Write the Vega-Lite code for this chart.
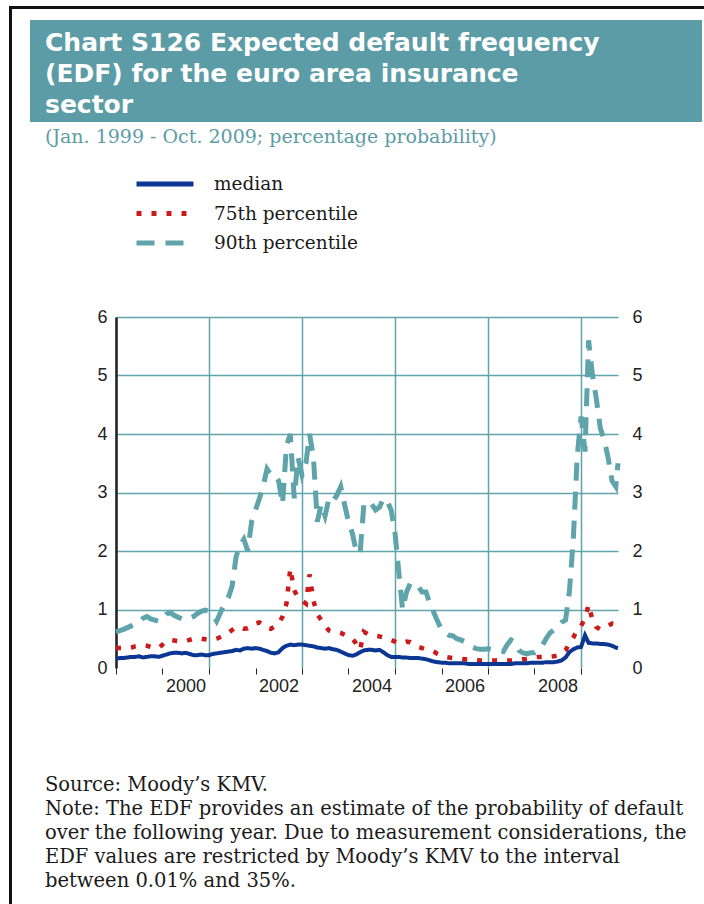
{
  "$schema": "https://vega.github.io/schema/vega-lite/v6.json",
  "background": "white",
  "padding": {"left": 9, "top": 6, "right": 0, "bottom": 0},
  "config": {
    "view": {"stroke": null},
    "font": "Liberation Sans",
    "legend": {
      "orient": "none",
      "legendX": 125,
      "legendY": 168,
      "title": null,
      "padding": 0,
      "symbolType": "stroke",
      "symbolSize": 3249,
      "symbolStrokeWidth": 5,
      "clipHeight": 20,
      "rowPadding": 9.5,
      "labelOffset": 18,
      "labelFont": "DejaVu Serif",
      "labelFontSize": 18.5,
      "labelColor": "#1a1a1a"
    }
  },
  "spacing": 0,
  "bounds": "flush",
  "vconcat": [
    {
      "width": 695,
      "height": 3,
      "view": {"fill": "#111111", "stroke": null},
      "data": {"values": []},
      "mark": "point"
    },
    {
      "spacing": 18,
      "bounds": "flush",
      "hconcat": [
        {
          "width": 3,
          "height": 900,
          "view": {"fill": "#111111", "stroke": null},
          "data": {"values": []},
          "mark": "point"
        },
        {
          "spacing": 0,
          "bounds": "flush",
          "vconcat": [
            {
              "width": 10,
              "height": 11,
              "view": {"stroke": null},
              "data": {"values": []},
              "mark": "point"
            },
            {
              "width": 672,
              "height": 102,
              "view": {"fill": "#5b9ca6", "stroke": null},
              "data": {"values": []},
              "mark": "point",
              "title": {
                "text": ["Chart S126 Expected default frequency", "(EDF) for the euro area insurance", "sector"],
                "subtitle": "(Jan. 1999 - Oct. 2009; percentage probability)",
                "orient": "bottom",
                "anchor": "start",
                "frame": "group",
                "offset": -91,
                "dx": 15,
                "font": "DejaVu Sans",
                "fontWeight": "bold",
                "fontSize": 25,
                "lineHeight": 31,
                "color": "#ffffff",
                "subtitleFont": "DejaVu Serif",
                "subtitleFontSize": 19,
                "subtitleColor": "#5b9ca6",
                "subtitlePadding": 10
              }
            },
            {
              "width": 10,
              "height": 195,
              "view": {"stroke": null},
              "data": {"values": []},
              "mark": "point"
            },
            {
              "spacing": 0,
              "bounds": "flush",
              "hconcat": [
                {
                  "width": 86,
                  "height": 10,
                  "view": {"stroke": null},
                  "data": {"values": []},
                  "mark": "point"
                },
                {
                  "width": 502,
                  "height": 351,
                  "title": {
                    "text": [
                      "Source: Moody’s KMV.",
                      "Note: The EDF provides an estimate of the probability of default",
                      "over the following year. Due to measurement considerations, the",
                      "EDF values are restricted by Moody’s KMV to the interval",
                      "between 0.01% and 35%."
                    ],
                    "orient": "bottom",
                    "anchor": "start",
                    "frame": "group",
                    "dx": -71,
                    "offset": 81,
                    "font": "DejaVu Serif",
                    "fontSize": 19.5,
                    "fontWeight": "normal",
                    "lineHeight": 24,
                    "color": "#1a1a1a"
                  },
                  "data": {
                    "values": [
                      {"date": "1999/01/01", "median": 0.16, "p75": 0.34, "p90": 0.62},
                      {"date": "1999/02/01", "median": 0.17, "p75": 0.34, "p90": 0.64},
                      {"date": "1999/03/01", "median": 0.17, "p75": 0.34, "p90": 0.66},
                      {"date": "1999/04/01", "median": 0.18, "p75": 0.34, "p90": 0.69},
                      {"date": "1999/05/01", "median": 0.19, "p75": 0.35, "p90": 0.72},
                      {"date": "1999/06/01", "median": 0.19, "p75": 0.37, "p90": 0.75},
                      {"date": "1999/07/01", "median": 0.20, "p75": 0.38, "p90": 0.78},
                      {"date": "1999/08/01", "median": 0.18, "p75": 0.39, "p90": 0.85},
                      {"date": "1999/09/01", "median": 0.19, "p75": 0.38, "p90": 0.88},
                      {"date": "1999/10/01", "median": 0.20, "p75": 0.36, "p90": 0.84},
                      {"date": "1999/11/01", "median": 0.20, "p75": 0.35, "p90": 0.82},
                      {"date": "1999/12/01", "median": 0.19, "p75": 0.34, "p90": 0.80},
                      {"date": "2000/01/01", "median": 0.21, "p75": 0.40, "p90": 0.82},
                      {"date": "2000/02/01", "median": 0.23, "p75": 0.47, "p90": 0.92},
                      {"date": "2000/03/01", "median": 0.25, "p75": 0.48, "p90": 0.95},
                      {"date": "2000/04/01", "median": 0.26, "p75": 0.47, "p90": 0.90},
                      {"date": "2000/05/01", "median": 0.26, "p75": 0.46, "p90": 0.87},
                      {"date": "2000/06/01", "median": 0.25, "p75": 0.45, "p90": 0.84},
                      {"date": "2000/07/01", "median": 0.26, "p75": 0.46, "p90": 0.82},
                      {"date": "2000/08/01", "median": 0.24, "p75": 0.48, "p90": 0.85},
                      {"date": "2000/09/01", "median": 0.22, "p75": 0.50, "p90": 0.88},
                      {"date": "2000/10/01", "median": 0.22, "p75": 0.51, "p90": 0.93},
                      {"date": "2000/11/01", "median": 0.23, "p75": 0.50, "p90": 0.97},
                      {"date": "2000/12/01", "median": 0.22, "p75": 0.49, "p90": 0.99},
                      {"date": "2001/01/01", "median": 0.22, "p75": 0.48, "p90": 0.97},
                      {"date": "2001/02/01", "median": 0.24, "p75": 0.48, "p90": 0.90},
                      {"date": "2001/03/01", "median": 0.25, "p75": 0.50, "p90": 0.80},
                      {"date": "2001/04/01", "median": 0.26, "p75": 0.53, "p90": 0.95},
                      {"date": "2001/05/01", "median": 0.27, "p75": 0.56, "p90": 1.10},
                      {"date": "2001/06/01", "median": 0.28, "p75": 0.60, "p90": 1.20},
                      {"date": "2001/07/01", "median": 0.29, "p75": 0.65, "p90": 1.40},
                      {"date": "2001/08/01", "median": 0.31, "p75": 0.70, "p90": 1.90},
                      {"date": "2001/09/01", "median": 0.30, "p75": 0.69, "p90": 2.10},
                      {"date": "2001/10/01", "median": 0.33, "p75": 0.67, "p90": 2.20},
                      {"date": "2001/11/01", "median": 0.34, "p75": 0.68, "p90": 2.00},
                      {"date": "2001/12/01", "median": 0.33, "p75": 0.72, "p90": 2.50},
                      {"date": "2002/01/01", "median": 0.34, "p75": 0.76, "p90": 2.70},
                      {"date": "2002/02/01", "median": 0.33, "p75": 0.78, "p90": 2.90},
                      {"date": "2002/03/01", "median": 0.31, "p75": 0.74, "p90": 3.10},
                      {"date": "2002/04/01", "median": 0.29, "p75": 0.68, "p90": 3.40},
                      {"date": "2002/05/01", "median": 0.26, "p75": 0.67, "p90": 3.30},
                      {"date": "2002/06/01", "median": 0.25, "p75": 0.71, "p90": 3.30},
                      {"date": "2002/07/01", "median": 0.27, "p75": 0.75, "p90": 3.20},
                      {"date": "2002/08/01", "median": 0.34, "p75": 0.88, "p90": 2.80},
                      {"date": "2002/09/01", "median": 0.38, "p75": 1.10, "p90": 3.80},
                      {"date": "2002/10/01", "median": 0.40, "p75": 1.70, "p90": 4.00},
                      {"date": "2002/11/01", "median": 0.39, "p75": 1.33, "p90": 2.90},
                      {"date": "2002/12/01", "median": 0.40, "p75": 1.20, "p90": 3.60},
                      {"date": "2003/01/01", "median": 0.40, "p75": 1.15, "p90": 3.30},
                      {"date": "2003/02/01", "median": 0.39, "p75": 1.10, "p90": 3.50},
                      {"date": "2003/03/01", "median": 0.38, "p75": 1.60, "p90": 4.00},
                      {"date": "2003/04/01", "median": 0.37, "p75": 1.15, "p90": 3.60},
                      {"date": "2003/05/01", "median": 0.35, "p75": 0.92, "p90": 2.50},
                      {"date": "2003/06/01", "median": 0.34, "p75": 0.82, "p90": 2.80},
                      {"date": "2003/07/01", "median": 0.33, "p75": 0.72, "p90": 2.60},
                      {"date": "2003/08/01", "median": 0.34, "p75": 0.64, "p90": 2.90},
                      {"date": "2003/09/01", "median": 0.32, "p75": 0.62, "p90": 2.85},
                      {"date": "2003/10/01", "median": 0.31, "p75": 0.62, "p90": 2.95},
                      {"date": "2003/11/01", "median": 0.28, "p75": 0.60, "p90": 3.10},
                      {"date": "2003/12/01", "median": 0.25, "p75": 0.57, "p90": 2.80},
                      {"date": "2004/01/01", "median": 0.22, "p75": 0.53, "p90": 2.50},
                      {"date": "2004/02/01", "median": 0.21, "p75": 0.50, "p90": 2.30},
                      {"date": "2004/03/01", "median": 0.23, "p75": 0.42, "p90": 2.00},
                      {"date": "2004/04/01", "median": 0.27, "p75": 0.31, "p90": 1.95},
                      {"date": "2004/05/01", "median": 0.30, "p75": 0.62, "p90": 2.80},
                      {"date": "2004/06/01", "median": 0.31, "p75": 0.58, "p90": 2.85},
                      {"date": "2004/07/01", "median": 0.31, "p75": 0.56, "p90": 2.80},
                      {"date": "2004/08/01", "median": 0.30, "p75": 0.55, "p90": 2.70},
                      {"date": "2004/09/01", "median": 0.31, "p75": 0.54, "p90": 2.75},
                      {"date": "2004/10/01", "median": 0.27, "p75": 0.52, "p90": 2.90},
                      {"date": "2004/11/01", "median": 0.22, "p75": 0.51, "p90": 2.85},
                      {"date": "2004/12/01", "median": 0.19, "p75": 0.48, "p90": 2.70},
                      {"date": "2005/01/01", "median": 0.19, "p75": 0.45, "p90": 2.30},
                      {"date": "2005/02/01", "median": 0.19, "p75": 0.42, "p90": 1.60},
                      {"date": "2005/03/01", "median": 0.18, "p75": 0.43, "p90": 1.00},
                      {"date": "2005/04/01", "median": 0.18, "p75": 0.45, "p90": 1.30},
                      {"date": "2005/05/01", "median": 0.17, "p75": 0.44, "p90": 1.45},
                      {"date": "2005/06/01", "median": 0.17, "p75": 0.40, "p90": 1.45},
                      {"date": "2005/07/01", "median": 0.17, "p75": 0.36, "p90": 1.40},
                      {"date": "2005/08/01", "median": 0.16, "p75": 0.34, "p90": 1.30},
                      {"date": "2005/09/01", "median": 0.15, "p75": 0.32, "p90": 1.30},
                      {"date": "2005/10/01", "median": 0.13, "p75": 0.31, "p90": 1.10},
                      {"date": "2005/11/01", "median": 0.11, "p75": 0.28, "p90": 0.95},
                      {"date": "2005/12/01", "median": 0.10, "p75": 0.24, "p90": 0.80},
                      {"date": "2006/01/01", "median": 0.09, "p75": 0.21, "p90": 0.65},
                      {"date": "2006/02/01", "median": 0.09, "p75": 0.19, "p90": 0.60},
                      {"date": "2006/03/01", "median": 0.08, "p75": 0.18, "p90": 0.56},
                      {"date": "2006/04/01", "median": 0.08, "p75": 0.17, "p90": 0.55},
                      {"date": "2006/05/01", "median": 0.08, "p75": 0.17, "p90": 0.50},
                      {"date": "2006/06/01", "median": 0.08, "p75": 0.16, "p90": 0.48},
                      {"date": "2006/07/01", "median": 0.08, "p75": 0.15, "p90": 0.45},
                      {"date": "2006/08/01", "median": 0.07, "p75": 0.15, "p90": 0.40},
                      {"date": "2006/09/01", "median": 0.07, "p75": 0.14, "p90": 0.36},
                      {"date": "2006/10/01", "median": 0.07, "p75": 0.14, "p90": 0.33},
                      {"date": "2006/11/01", "median": 0.07, "p75": 0.13, "p90": 0.32},
                      {"date": "2006/12/01", "median": 0.07, "p75": 0.13, "p90": 0.32},
                      {"date": "2007/01/01", "median": 0.07, "p75": 0.13, "p90": 0.33},
                      {"date": "2007/02/01", "median": 0.07, "p75": 0.13, "p90": 0.32},
                      {"date": "2007/03/01", "median": 0.07, "p75": 0.13, "p90": 0.31},
                      {"date": "2007/04/01", "median": 0.07, "p75": 0.13, "p90": 0.30},
                      {"date": "2007/05/01", "median": 0.07, "p75": 0.13, "p90": 0.28},
                      {"date": "2007/06/01", "median": 0.07, "p75": 0.13, "p90": 0.40},
                      {"date": "2007/07/01", "median": 0.07, "p75": 0.13, "p90": 0.48},
                      {"date": "2007/08/01", "median": 0.08, "p75": 0.14, "p90": 0.44},
                      {"date": "2007/09/01", "median": 0.08, "p75": 0.14, "p90": 0.30},
                      {"date": "2007/10/01", "median": 0.08, "p75": 0.15, "p90": 0.26},
                      {"date": "2007/11/01", "median": 0.08, "p75": 0.15, "p90": 0.24},
                      {"date": "2007/12/01", "median": 0.09, "p75": 0.16, "p90": 0.26},
                      {"date": "2008/01/01", "median": 0.09, "p75": 0.18, "p90": 0.26},
                      {"date": "2008/02/01", "median": 0.09, "p75": 0.19, "p90": 0.30},
                      {"date": "2008/03/01", "median": 0.09, "p75": 0.19, "p90": 0.38},
                      {"date": "2008/04/01", "median": 0.10, "p75": 0.19, "p90": 0.50},
                      {"date": "2008/05/01", "median": 0.10, "p75": 0.19, "p90": 0.60},
                      {"date": "2008/06/01", "median": 0.10, "p75": 0.20, "p90": 0.65},
                      {"date": "2008/07/01", "median": 0.11, "p75": 0.21, "p90": 0.70},
                      {"date": "2008/08/01", "median": 0.13, "p75": 0.25, "p90": 0.78},
                      {"date": "2008/09/01", "median": 0.18, "p75": 0.30, "p90": 0.82},
                      {"date": "2008/10/01", "median": 0.27, "p75": 0.42, "p90": 1.30},
                      {"date": "2008/11/01", "median": 0.32, "p75": 0.52, "p90": 2.20},
                      {"date": "2008/12/01", "median": 0.35, "p75": 0.65, "p90": 3.60},
                      {"date": "2009/01/01", "median": 0.36, "p75": 0.72, "p90": 4.30},
                      {"date": "2009/02/01", "median": 0.56, "p75": 0.85, "p90": 3.70},
                      {"date": "2009/03/01", "median": 0.43, "p75": 1.08, "p90": 5.60},
                      {"date": "2009/04/01", "median": 0.42, "p75": 0.82, "p90": 5.00},
                      {"date": "2009/05/01", "median": 0.42, "p75": 0.70, "p90": 4.60},
                      {"date": "2009/06/01", "median": 0.41, "p75": 0.66, "p90": 4.10},
                      {"date": "2009/07/01", "median": 0.41, "p75": 0.68, "p90": 3.90},
                      {"date": "2009/08/01", "median": 0.40, "p75": 0.72, "p90": 3.60},
                      {"date": "2009/09/01", "median": 0.38, "p75": 0.76, "p90": 3.20},
                      {"date": "2009/10/01", "median": 0.35, "p75": 0.75, "p90": 3.10},
                      {"date": "2009/10/18", "median": 0.34, "p75": 0.76, "p90": 3.50}
                    ]
                  },
                  "transform": [{"fold": ["median", "p75", "p90"], "as": ["series", "value"]}],
                  "encoding": {
                    "x": {
                      "field": "date",
                      "type": "temporal",
                      "scale": {"domain": [{"year": 1999, "month": 1, "date": 1}, {"year": 2009, "month": 10, "date": 18}]},
                      "axis": {
                        "title": null,
                        "domain": false,
                        "tickCount": {"interval": "year", "step": 1},
                        "format": "%Y",
                        "labelExpr": "year(datum.value) % 2 === 0 ? datum.label : ''",
                        "labelOffset": 23,
                        "labelFlush": false,
                        "labelOverlap": false,
                        "labelPadding": 3,
                        "labelFont": "Liberation Sans",
                        "labelFontSize": 18,
                        "labelColor": "#222222",
                        "ticks": true,
                        "tickColor": "#222222",
                        "tickSize": 6,
                        "tickWidth": 1,
                        "grid": true,
                        "gridColor": "#5fa3ab",
                        "gridWidth": 1.5,
                        "gridOpacity": {"condition": {"test": "year(datum.value) % 2 === 1", "value": 1}, "value": 0}
                      }
                    },
                    "color": {
                      "field": "series",
                      "type": "nominal",
                      "scale": {"domain": ["median", "p75", "p90"], "range": ["#0b3694", "#cc1a1a", "#5fa3ab"]},
                      "legend": {"labelExpr": "datum.label === 'p75' ? '75th percentile' : datum.label === 'p90' ? '90th percentile' : datum.label"}
                    },
                    "strokeDash": {
                      "field": "series",
                      "type": "nominal",
                      "scale": {"domain": ["median", "p75", "p90"], "range": [[1, 0], [5, 10], [18, 11]]},
                      "legend": {"labelExpr": "datum.label === 'p75' ? '75th percentile' : datum.label === 'p90' ? '90th percentile' : datum.label"}
                    }
                  },
                  "layer": [
                    {
                      "transform": [{"filter": "datum.series === 'p90'"}],
                      "mark": {"type": "line", "strokeWidth": 5, "strokeCap": "butt"},
                      "encoding": {
                        "y": {
                          "field": "value",
                          "type": "quantitative",
                          "scale": {"domain": [0, 6]},
                          "axis": {
                            "title": null,
                            "orient": "left",
                            "values": [0, 1, 2, 3, 4, 5, 6],
                            "domain": true,
                            "domainColor": "#222222",
                            "domainWidth": 2.5,
                            "ticks": false,
                            "labelPadding": 9,
                            "labelFont": "Liberation Sans",
                            "labelFontSize": 18,
                            "labelColor": "#222222",
                            "grid": true,
                            "gridColor": "#5fa3ab",
                            "gridWidth": 1.5,
                            "gridOpacity": {"condition": {"test": "datum.value === 0", "value": 0}, "value": 1}
                          }
                        }
                      }
                    },
                    {
                      "transform": [{"filter": "datum.series === 'p75'"}],
                      "mark": {"type": "line", "strokeWidth": 4.5, "strokeCap": "butt"},
                      "encoding": {
                        "y": {
                          "field": "value",
                          "type": "quantitative",
                          "scale": {"domain": [0, 6]},
                          "axis": {
                            "title": null,
                            "orient": "right",
                            "values": [0, 1, 2, 3, 4, 5, 6],
                            "domain": false,
                            "ticks": false,
                            "grid": false,
                            "labelPadding": 14,
                            "labelFont": "Liberation Sans",
                            "labelFontSize": 18,
                            "labelColor": "#222222"
                          }
                        }
                      }
                    },
                    {
                      "transform": [{"filter": "datum.series === 'median'"}],
                      "mark": {"type": "line", "strokeWidth": 4, "strokeCap": "butt"},
                      "encoding": {
                        "y": {
                          "field": "value",
                          "type": "quantitative",
                          "scale": {"domain": [0, 6]},
                          "axis": null
                        }
                      }
                    }
                  ],
                  "resolve": {"axis": {"y": "independent"}}
                }
              ]
            }
          ]
        }
      ]
    }
  ]
}
